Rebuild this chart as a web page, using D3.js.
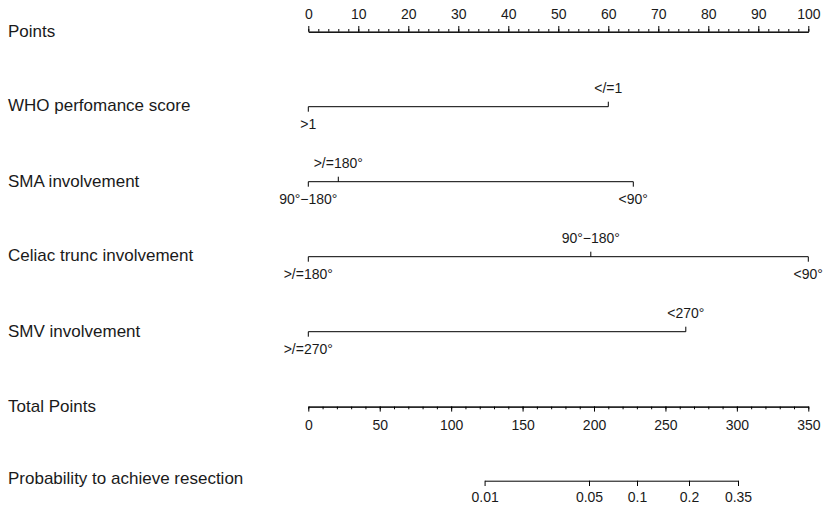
<!DOCTYPE html>
<html>
<head>
<meta charset="utf-8">
<script src="https://cdn.jsdelivr.net/npm/d3@7"></script>
<style>
  html, body { margin: 0; padding: 0; background: #fff; }
  svg { display: block; }
  text { font-family: "Liberation Sans", Arial, sans-serif; fill: #1a1a1a; }
</style>
</head>
<body>
<svg id="chart" width="823" height="507"></svg>
<script>
// ---------- data ----------
const rowLabels = ["Points", "WHO perfomance score", "SMA involvement",
  "Celiac trunc involvement", "SMV involvement", "Total Points",
  "Probability to achieve resection"];

const pointsTicks = [0, 10, 20, 30, 40, 50, 60, 70, 80, 90, 100];
const totalTicks = [0, 50, 100, 150, 200, 250, 300, 350];

const whoLevels = [">1", "</=1"];
const whoPoints = [0, 60];

const smaLevels = ["90°−180°", ">/=180°", "<90°"];
const smaPoints = [0, 6, 65];

const celiacLevels = [">/=180°", "90°−180°", "<90°"];
const celiacPoints = [0, 56.5, 100];

const smvLevels = [">/=270°", "<270°"];
const smvPoints = [0, 75.5];

const probTicks = [0.01, 0.05, 0.1, 0.2, 0.35];
const probTotalPoints = [123.4, 196.5, 230.1, 266.5, 300.8];

// ---------- layout ----------
const svg = d3.select("#chart");
const x0 = 308.3, x1 = 808.3;
const rowY = [31.7, 106.7, 181.7, 256.7, 331.7, 406.6, 480.7];
const labelFs = 17, tickFs = 14;

const ptsX = d3.scaleLinear().domain([0, 100]).range([x0, x1]);
const totX = d3.scaleLinear().domain([0, 350]).range([x0, x1]);
const probX = d3.scaleLinear().domain(probTicks).range(probTotalPoints.map(totX));

// row labels
const labelOffsets = [5, 4, 5, 4, 5, 5, 3.5];
svg.selectAll("text.rowlab").data(rowLabels).join("text")
  .attr("class", "rowlab")
  .attr("x", 8)
  .attr("y", (d, i) => rowY[i] + labelOffsets[i])
  .attr("font-size", labelFs)
  .text(d => d);

function styleAxis(g) {
  g.selectAll("path.domain").attr("stroke", "#000").attr("stroke-width", 1);
  g.selectAll(".tick line").attr("stroke", "#000").attr("stroke-width", 1);
  g.selectAll("text").attr("font-size", tickFs).attr("fill", "#1a1a1a")
    .attr("font-family", "'Liberation Sans', Arial, sans-serif");
}

// Points axis (ticks up)
svg.append("g").attr("transform", `translate(0,${rowY[0]})`)
  .call(d3.axisTop(ptsX).tickValues(d3.range(0, 101, 2)).tickSize(2.7).tickSizeOuter(0).tickFormat(""))
  .call(styleAxis);
svg.append("g").attr("transform", `translate(0,${rowY[0]})`)
  .call(d3.axisTop(ptsX).tickValues(pointsTicks).tickSize(5.7).tickSizeOuter(0).tickPadding(7))
  .call(styleAxis);

// Variable rows
function variableRow(levels, pts, y) {
  const g = svg.append("g");
  const items = levels.map((l, i) => ({ label: l, p: pts[i] }))
    .sort((a, b) => a.p - b.p);
  g.append("line")
    .attr("x1", ptsX(d3.min(pts))).attr("x2", ptsX(d3.max(pts)))
    .attr("y1", y).attr("y2", y)
    .attr("stroke", "#000").attr("stroke-width", 1);
  items.forEach((d, i) => {
    const below = i % 2 === 0;
    g.append("line")
      .attr("x1", ptsX(d.p)).attr("x2", ptsX(d.p))
      .attr("y1", y).attr("y2", below ? y + 5 : y - 5)
      .attr("stroke", "#000").attr("stroke-width", 1);
    g.append("text")
      .attr("x", ptsX(d.p))
      .attr("y", below ? y + 22 : y - 13.4)
      .attr("text-anchor", "middle")
      .attr("font-size", tickFs)
      .text(d.label);
  });
}
variableRow(whoLevels, whoPoints, rowY[1]);
variableRow(smaLevels, smaPoints, rowY[2]);
variableRow(celiacLevels, celiacPoints, rowY[3]);
variableRow(smvLevels, smvPoints, rowY[4]);

// Total points axis (ticks down)
svg.append("g").attr("transform", `translate(0,${rowY[5]})`)
  .call(d3.axisBottom(totX).tickValues(d3.range(0, 351, 10)).tickSize(2.7).tickSizeOuter(0).tickFormat(""))
  .call(styleAxis);
svg.append("g").attr("transform", `translate(0,${rowY[5]})`)
  .call(d3.axisBottom(totX).tickValues(totalTicks).tickSize(5).tickSizeOuter(0).tickPadding(8))
  .call(styleAxis);

// Probability axis
svg.append("g").attr("transform", `translate(0,${rowY[6]})`)
  .call(d3.axisBottom(probX).tickValues(probTicks).tickSize(5.3).tickSizeOuter(0).tickPadding(6.3)
    .tickFormat(d => String(d)))
  .call(styleAxis);
</script>
</body>
</html>
